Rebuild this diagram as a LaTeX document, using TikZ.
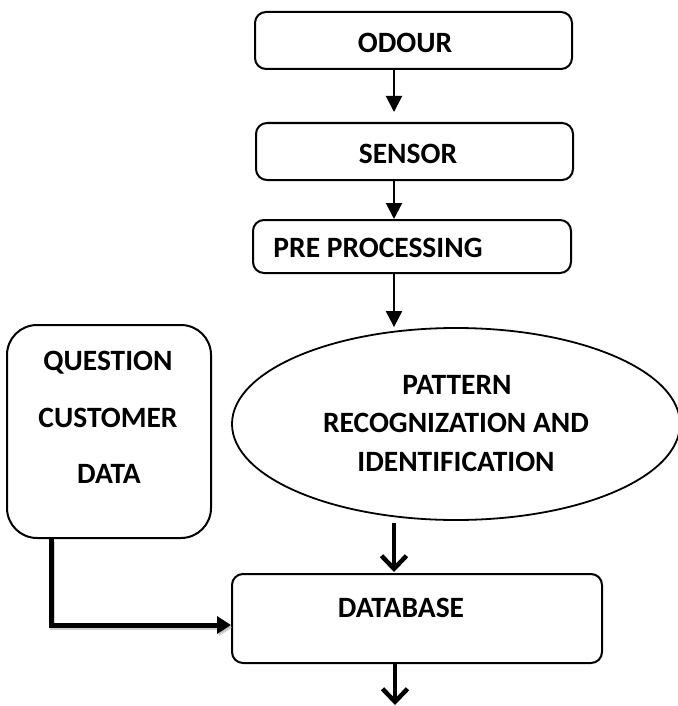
\documentclass[tikz,border=0pt]{standalone}
\usepackage{fontspec}
\setmainfont{Carlito}
\usetikzlibrary{arrows.meta,shapes.geometric}
\begin{document}
\begin{tikzpicture}[x=1pt,y=-1pt,
  box/.style={draw, line width=2pt, rounded corners=11pt, inner sep=0pt},
  lbl/.style={anchor=base, inner sep=0pt, font=\fontsize{29.5}{31}\selectfont\bfseries},
  thinarrow/.style={line width=2pt, -{Triangle[length=16pt,width=16pt]}},
  heavyarrow/.style={line width=4.5pt, -{Straight Barb[length=13pt,width=25pt]}},
  feed/.style={line width=5pt, -{Triangle[length=14pt,width=17pt]}},
]
\useasboundingbox (0,0) rectangle (677,706);

% process boxes
\node[box, minimum width=317pt, minimum height=57pt] (odour) at (413.5,40.5) {};
\node[box, minimum width=317pt, minimum height=57pt] (sensor) at (414.5,151.5) {};
\node[box, minimum width=318pt, minimum height=53pt] (pre) at (412,246.5) {};
\node[draw, ellipse, line width=1.8pt, inner sep=0pt,
      minimum width=448pt, minimum height=192pt] (ell) at (456,424) {};
\node[box, rounded corners=30pt, minimum width=204pt, minimum height=213pt] (q) at (109,431.5) {};
\node[box, minimum width=370pt, minimum height=89pt] (db) at (417,618.5) {};

% labels
\node[lbl] (odourt) at (405,53) {ODOUR};
\node[lbl] (sensort) at (408,163) {SENSOR};
\node[lbl] (pret) at (378,257) {PRE PROCESSING};
\node[lbl] (ell1) at (457,394) {PATTERN};
\node[lbl] (ell2) at (456,432) {RECOGNIZATION AND};
\node[lbl] (ell3) at (456,471) {IDENTIFICATION};
\node[lbl] (q1) at (108,370) {QUESTION};
\node[lbl] (q2) at (108,427) {CUSTOMER};
\node[lbl] (q3) at (109,483) {DATA};
\node[lbl] (dbt) at (401,617) {DATABASE};

% connector columns
\coordinate (spine) at (394,0);
\coordinate (drop) at (51,0);
\coordinate (out) at (395,705);

% main flow
\draw[thinarrow, shorten >=10pt] (odour.south -| spine) -- (sensor.north -| spine);
\draw[thinarrow] (sensor.south -| spine) -- (pre.north -| spine);
\draw[thinarrow] (pre.south -| spine) -- (ell.north -| spine);
\draw[heavyarrow, shorten <=2pt, shorten >=1pt] (ell.south -| spine) -- (db.north -| spine);
\draw[heavyarrow] (db.south -| out) -- (out);

% side input with soft shadow
\draw[feed, color=black!30, opacity=0.6,
      transform canvas={shift={(1.5pt,-2.5pt)}}]
  (q.south -| drop) |- ([yshift=-6.5pt]db.west);
\draw[feed] (q.south -| drop) |- ([yshift=-6.5pt]db.west);
\end{tikzpicture}
\end{document}
